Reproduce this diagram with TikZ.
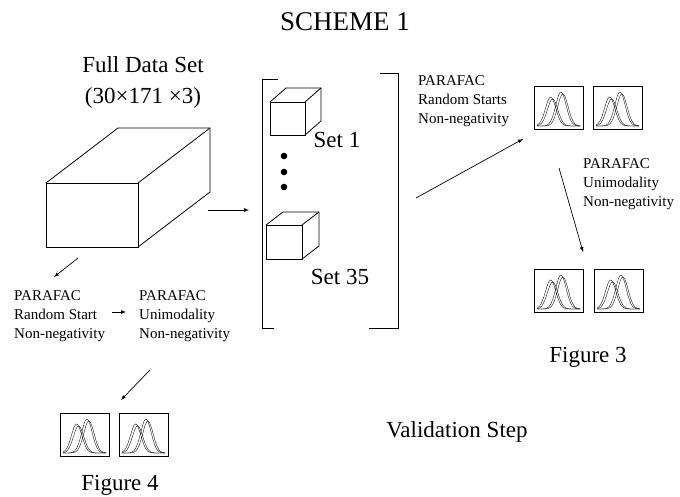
\documentclass[tikz,border=0pt]{standalone}
\usepackage{fontspec}
\setmainfont{Liberation Serif}
\begin{document}
\begin{tikzpicture}[x=1pt,y=-1pt,>=latex,
   big/.style={font=\fontsize{23}{31}\selectfont,inner sep=0pt,align=center},
   small/.style={font=\fontsize{15}{19}\selectfont,inner sep=0pt,align=left,anchor=north west},
   edge/.style={line width=0.8pt},
   arr/.style={->,line width=0.7pt}]
   \useasboundingbox (0,0) rectangle (680,497);
   %title
   \node[font=\fontsize{27}{30}\selectfont,inner sep=0pt] (title) at (345,22) {SCHEME 1};
   %full data set
   \node[big] (full) at (143,82) {Full Data Set\\(30×171 ×3)};
   \draw[edge] (46,183) rectangle (138,247);
   \draw[edge] (46,183) -- (118,128) -- (210,128) -- (210,192) -- (138,247);
   \draw[edge] (138,183) -- (210,128);
   %sets
   \draw[edge] (278,79) -- (262,79) -- (262,328) -- (274,328);
   \draw[edge] (380,73) -- (398,73) -- (398,328) -- (369,328);
   \draw[edge] (270,102) rectangle (305,135);
   \draw[edge] (270,102) -- (286,88) -- (321,88) -- (321,121) -- (305,135);
   \draw[edge] (305,102) -- (321,88);
   \draw[edge] (266,225) rectangle (302,259);
   \draw[edge] (266,225) -- (283,212) -- (319,212) -- (319,246) -- (302,259);
   \draw[edge] (302,225) -- (319,212);
   \foreach \y in {156,172,187}
      \fill (284,\y) circle (3.3);
   \node[big] (set1) at (337,140) {Set 1};
   \node[big] (set35) at (340,277) {Set 35};
   %spectra
   \foreach \bx/\by in {534/86,593/86,534/269,594/269,60/413,119/413}{
      \draw[line width=0.6pt] (\bx,\by) rectangle ++(49,43);
      \foreach \c/\h in {0.34/29,0.38/27,0.55/34,0.59/32}
         \draw[line width=0.35pt] plot[domain=0.06:0.94,samples=40,smooth]
            ({\bx+49*\x},{\by+40-\h*exp(-((\x-\c)/0.15)^2)});
   }
   %description
   \node[small] (fit1) at (14,290) {PARAFAC\\Random Start\\Non-negativity};
   \node[small] (fit2) at (139,290) {PARAFAC\\Unimodality\\Non-negativity};
   \node[small] (fit3) at (418,75) {PARAFAC\\Random Starts\\Non-negativity};
   \node[small] (fit4) at (583,158) {PARAFAC\\Unimodality\\Non-negativity};
   \node[big] (valid) at (457,432) {Validation Step};
   \node[big] (fig3) at (588,357) {Figure 3};
   \node[big] (fig4) at (120,485) {Figure 4};
   %arrows
   \coordinate (a1) at (208,210); \coordinate (b1) at (249,210);
   \coordinate (a2) at (78,258);  \coordinate (b2) at (54,277);
   \coordinate (a3) at (112,312); \coordinate (b3) at (126,312);
   \coordinate (a4) at (150,370); \coordinate (b4) at (121,400);
   \coordinate (a5) at (416,198); \coordinate (b5) at (523,139);
   \coordinate (a6) at (559,168); \coordinate (b6) at (583,252);
   \foreach \i in {1,...,6}
      \draw[arr] (a\i) -- (b\i);
\end{tikzpicture}
\end{document}
